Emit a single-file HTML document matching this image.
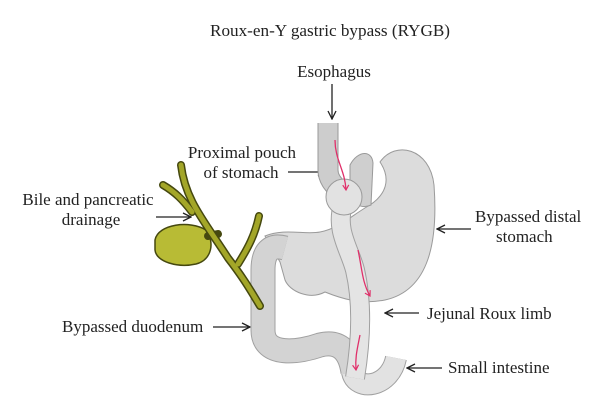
<!DOCTYPE html>
<html><head><style>
body{margin:0;background:#fff;}
svg{display:block;font-family:"Liberation Serif",serif;font-size:17px;fill:#222;}
</style></head><body>
<svg width="600" height="419" viewBox="0 0 600 419" xmlns="http://www.w3.org/2000/svg">
<defs>
<marker id="a" markerWidth="10" markerHeight="10" refX="9" refY="5" orient="auto" markerUnits="userSpaceOnUse"><path d="M1,1 L9,5 L1,9" fill="none" stroke="#222" stroke-width="1.3"/></marker>
<marker id="p" markerWidth="8" markerHeight="8" refX="6" refY="4" orient="auto" markerUnits="userSpaceOnUse"><path d="M1,1 L6,4 L1,7" fill="none" stroke="#e0306a" stroke-width="1.2"/></marker>
</defs>
<text x="330" y="36" text-anchor="middle" textLength="240" lengthAdjust="spacingAndGlyphs">Roux-en-Y gastric bypass (RYGB)</text>
<text x="334" y="77" text-anchor="middle">Esophagus</text>
<text x="242" y="158" text-anchor="middle">Proximal pouch</text>
<text x="241" y="178" text-anchor="middle">of stomach</text>
<text x="88" y="205" text-anchor="middle">Bile and pancreatic</text>
<text x="91" y="225" text-anchor="middle">drainage</text>
<text x="475" y="222">Bypassed distal</text>
<text x="496" y="242">stomach</text>
<text x="62" y="332">Bypassed duodenum</text>
<text x="427" y="319">Jejunal Roux limb</text>
<text x="448" y="373">Small intestine</text>
<g stroke="#222" stroke-width="1.3" fill="none">
<line x1="332" y1="84" x2="332" y2="119" marker-end="url(#a)"/>
<line x1="288" y1="172" x2="326" y2="172" marker-end="url(#a)"/>
<line x1="156" y1="217" x2="191" y2="217" marker-end="url(#a)"/>
<line x1="471" y1="229" x2="437" y2="229" marker-end="url(#a)"/>
<line x1="213" y1="327" x2="250" y2="327" marker-end="url(#a)"/>
<line x1="419" y1="313" x2="385" y2="313" marker-end="url(#a)"/>
<line x1="442" y1="368" x2="407" y2="368" marker-end="url(#a)"/>
</g>
<path d="M265,236 C285,228 305,235 320,232 C340,228 352,215 370,205 C385,195 392,180 380,162 C395,140 430,148 434,185 C438,240 430,290 385,300 C360,305 340,298 325,292 C310,300 290,292 285,280 L280,262 Z" fill="#dcdcdc" stroke="#9a9a9a" stroke-width="1"/>
<path d="M350,165 C358,150 372,150 373,163 L371,205 C360,210 350,202 350,190 Z" fill="#cfcfcf" stroke="#9a9a9a"/>
<path d="M285,248 C270,244 263,252 263,270 L263,330 C263,358 300,352 320,345 C340,340 350,352 353,372" fill="none" stroke="#a0a0a0" stroke-width="25"/>
<path d="M285,248 C270,244 263,252 263,270 L263,330 C263,358 300,352 320,345 C340,340 350,352 353,372" fill="none" stroke="#d3d3d3" stroke-width="23"/>
<path d="M352,372 C356,392 390,388 396,358" fill="none" stroke="#a0a0a0" stroke-width="22"/>
<path d="M352,372 C356,392 390,388 396,358" fill="none" stroke="#e2e2e2" stroke-width="20"/>
<path d="M343,205 C335,230 350,250 355,270 C362,300 362,335 355,378" fill="none" stroke="#a0a0a0" stroke-width="20"/>
<path d="M343,205 C335,230 350,250 355,270 C362,300 362,335 355,378" fill="none" stroke="#e4e4e4" stroke-width="18"/>
<path d="M328,123 L328,170 C328,182 338,188 343,195" fill="none" stroke="#999" stroke-width="21"/>
<path d="M328,123 L328,170 C328,182 338,188 343,195" fill="none" stroke="#cdcdcd" stroke-width="19"/>
<circle cx="344" cy="197" r="18" fill="#e2e2e2" stroke="#9a9a9a"/>
<g stroke="#e0306a" stroke-width="1.3" fill="none">
<path d="M335,140 C335,160 345,170 346,190" marker-end="url(#p)"/>
<path d="M358,250 C362,268 362,282 370,296" marker-end="url(#p)"/>
<path d="M360,335 C357,350 355,358 356,370" marker-end="url(#p)"/>
</g>
<path d="M155,240 C158,224 190,220 206,230 C215,242 212,260 196,264 C178,268 156,262 155,250 Z" fill="#b8bb35" stroke="#45480f" stroke-width="1.5"/>
<g stroke="#45480f" stroke-width="8" stroke-linecap="round" fill="none">
<path d="M181,165 C185,200 205,222 228,258 C245,280 252,293 260,306"/>
<path d="M163,185 C175,192 183,200 192,212"/>
<path d="M259,216 C255,235 248,248 238,264"/>
<path d="M208,236 L218,234"/>
</g>
<g stroke="#a3a628" stroke-width="5" stroke-linecap="round" fill="none">
<path d="M181,165 C185,200 205,222 228,258 C245,280 252,293 260,306"/>
<path d="M163,185 C175,192 183,200 192,212"/>
<path d="M259,216 C255,235 248,248 238,264"/>
</g>
</svg>
</body></html>
